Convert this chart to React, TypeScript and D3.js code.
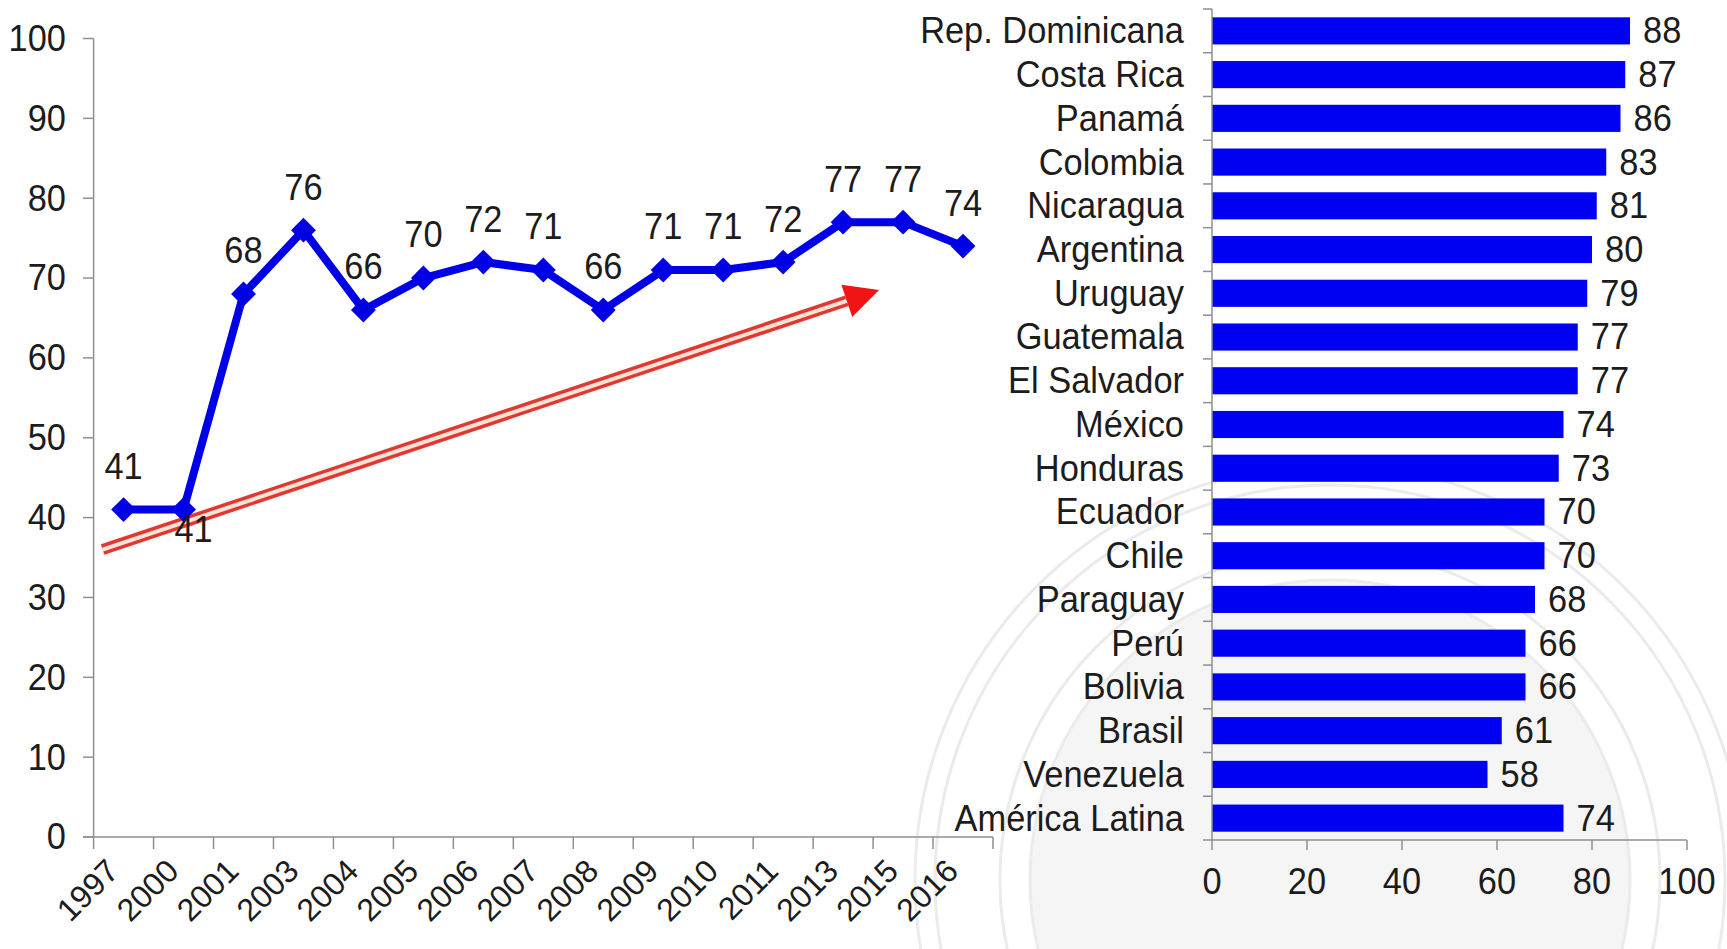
import * as d3 from "d3";

const years = ["1997", "2000", "2001", "2003", "2004", "2005", "2006", "2007", "2008", "2009", "2010", "2011", "2013", "2015", "2016"];
const supportValues = [41, 41, 68, 76, 66, 70, 72, 71, 66, 71, 71, 72, 77, 77, 74];
const lineTicks = [0, 10, 20, 30, 40, 50, 60, 70, 80, 90, 100];

const countries = [
  "Rep. Dominicana", "Costa Rica", "Panamá", "Colombia", "Nicaragua", "Argentina", "Uruguay",
  "Guatemala", "El Salvador", "México", "Honduras", "Ecuador", "Chile", "Paraguay", "Perú",
  "Bolivia", "Brasil", "Venezuela", "América Latina",
];
const countryValues = [88, 87, 86, 83, 81, 80, 79, 77, 77, 74, 73, 70, 70, 68, 66, 66, 61, 58, 74];
const barTicks = [0, 20, 40, 60, 80, 100];

// trend arrow, in (category position, value) units
const trendFrom = { pos: 0.15, value: 36 };
const trendTo = { pos: 13.1, value: 68.5 };

const FONT = "'Liberation Sans', Arial, sans-serif";
const TEXT = "#1c1c1c";
const AXIS = "#8f8f8f";
const BLUE = "#0000e6";
const FS = 37;
const SX = 0.93; // the source text is a bit narrow

function Label({
  x,
  y,
  anchor = "start",
  rotate = 0,
  sx = SX,
  children,
}: {
  x: number;
  y: number;
  anchor?: "start" | "middle" | "end";
  rotate?: number;
  sx?: number;
  children: React.ReactNode;
}) {
  return (
    <text
      transform={`translate(${x},${y}) rotate(${rotate}) scale(${sx},1)`}
      textAnchor={anchor}
      dominantBaseline={rotate ? "auto" : "central"}
    >
      {children}
    </text>
  );
}

export default function App() {
  const width = 1727;
  const height = 949;

  // left: line chart
  const x = d3.scaleBand().domain(years).range([93.6, 993]).padding(0);
  const xPos = d3.scaleLinear().domain([0, years.length]).range([93.6, 993]);
  const y = d3.scaleLinear().domain([0, 100]).range([837, 38.5]);
  const axisY = y(0);

  const points = years.map((yr, i) => ({
    yr,
    v: supportValues[i],
    cx: (x(yr) ?? 0) + x.bandwidth() / 2,
    cy: y(supportValues[i]),
  }));
  const line = d3
    .line<(typeof points)[number]>()
    .x((d) => d.cx)
    .y((d) => d.cy);
  const diamond = d3.symbol(d3.symbolSquare, 310)();

  // arrow geometry
  const ax0 = xPos(trendFrom.pos);
  const ay0 = y(trendFrom.value);
  const ax1 = xPos(trendTo.pos);
  const ay1 = y(trendTo.value);
  const ang = Math.atan2(ay1 - ay0, ax1 - ax0);
  const headLen = 34;
  const headHalf = 17;
  const bx = ax1 - headLen * Math.cos(ang);
  const by = ay1 - headLen * Math.sin(ang);
  const nx = -Math.sin(ang);
  const ny = Math.cos(ang);

  // right: bar chart
  const yb = d3.scaleBand().domain(countries).range([9, 840]).paddingInner(0.38).paddingOuter(0.19);
  const xb = d3.scaleLinear().domain([0, 100]).range([1212, 1687]);
  const barAxisY = 840;
  const boundaries = d3.range(countries.length + 1).map((i) => 9 + i * yb.step());

  return (
    <svg
      width={width}
      height={height}
      viewBox={`0 0 ${width} ${height}`}
      style={{ position: "absolute", left: 0, top: 0, background: "#fff" }}
      fontFamily={FONT}
    >
      <rect width={width} height={height} fill="#fff" />

      {/* faint seal watermark */}
      <g fill="none" stroke="#ebebeb" strokeWidth={3}>
        <circle cx={1330} cy={880} r={300} fill="#f5f5f5" />
        <circle cx={1330} cy={880} r={330} />
        <circle cx={1330} cy={880} r={395} />
        <circle cx={1330} cy={880} r={415} />
      </g>

      {/* line chart axes */}
      <g stroke={AXIS} strokeWidth={1.5}>
        <line x1={93.6} x2={93.6} y1={y(100)} y2={axisY} />
        <line x1={83} x2={993} y1={axisY} y2={axisY} />
        {lineTicks.map((t) => (
          <line key={t} x1={83} x2={93.6} y1={y(t)} y2={y(t)} />
        ))}
        {d3.range(years.length + 1).map((i) => (
          <line key={i} x1={xPos(i)} x2={xPos(i)} y1={axisY} y2={axisY + 12} />
        ))}
      </g>
      <g fontSize={FS} fill={TEXT}>
        {lineTicks.map((t) => (
          <Label key={t} x={66} y={y(t)} anchor="end">
            {t}
          </Label>
        ))}
      </g>
      <g fontSize={32} fill={TEXT}>
        {points.map((p) => (
          <Label key={p.yr} x={p.cx - 3} y={axisY + 36} anchor="end" rotate={-45} sx={1}>
            {p.yr}
          </Label>
        ))}
      </g>

      {/* trend arrow */}
      <line x1={ax0} y1={ay0} x2={bx} y2={by} stroke="#e0392f" strokeWidth={11} />
      <line x1={ax0} y1={ay0} x2={bx} y2={by} stroke="#fde2da" strokeWidth={4} />
      <path
        d={`M${ax1},${ay1}L${bx + nx * headHalf},${by + ny * headHalf}L${bx - nx * headHalf},${by - ny * headHalf}Z`}
        fill="#f01414"
      />

      {/* series */}
      <path d={line(points) ?? ""} fill="none" stroke={BLUE} strokeWidth={8} strokeLinejoin="round" />
      {points.map((p) => (
        <path key={p.yr} d={diamond ?? ""} transform={`translate(${p.cx},${p.cy}) rotate(45)`} fill={BLUE} />
      ))}
      <g fontSize={FS} fill={TEXT}>
        {points.map((p, i) =>
          i === 1 ? (
            <Label key={p.yr} x={p.cx + 10} y={p.cy + 20} anchor="middle">
              {p.v}
            </Label>
          ) : (
            <Label key={p.yr} x={p.cx} y={p.cy - 43} anchor="middle">
              {p.v}
            </Label>
          ),
        )}
      </g>

      {/* bar chart */}
      {countries.map((c, i) => (
        <rect
          key={c}
          x={xb(0)}
          y={yb(c)}
          width={xb(countryValues[i]) - xb(0)}
          height={yb.bandwidth()}
          fill="#0000f2"
        />
      ))}
      <g stroke={AXIS} strokeWidth={1.5}>
        <line x1={xb(0)} x2={xb(0)} y1={9} y2={barAxisY} />
        <line x1={xb(0)} x2={xb(100)} y1={barAxisY} y2={barAxisY} />
        {boundaries.map((b, i) => (
          <line key={i} x1={xb(0) - 9} x2={xb(0)} y1={b} y2={b} />
        ))}
        {barTicks.map((t) => (
          <line key={t} x1={xb(t)} x2={xb(t)} y1={barAxisY} y2={barAxisY + 10} />
        ))}
      </g>
      <g fontSize={FS} fill={TEXT}>
        {countries.map((c, i) => (
          <g key={c}>
            <Label x={1184} y={(yb(c) ?? 0) + yb.bandwidth() / 2} anchor="end">
              {c}
            </Label>
            <Label x={xb(countryValues[i]) + 13} y={(yb(c) ?? 0) + yb.bandwidth() / 2}>
              {countryValues[i]}
            </Label>
          </g>
        ))}
        {barTicks.map((t) => (
          <Label key={t} x={xb(t)} y={barAxisY + 42} anchor="middle">
            {t}
          </Label>
        ))}
      </g>
    </svg>
  );
}
